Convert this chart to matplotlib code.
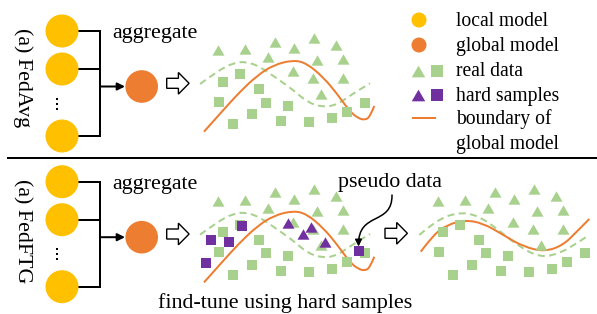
import numpy as np
import matplotlib
matplotlib.use("Agg")
import matplotlib.pyplot as plt
from matplotlib.patches import Circle, Polygon, FancyArrowPatch, PathPatch
from matplotlib.path import Path

YELLOW = "#FFC000"
ORANGE = "#ED7D31"
GREEN = "#A9D18E"
PURPLE = "#7030A0"

# ---------------- content (pixel coordinates on a 597x314 canvas, y down) -------------
panel_labels = ["(a) FedAvg", "(a) FedFTG"]
legend_labels = ["local model", "global model", "real data", "hard samples",
                 "boundary of", "global model"]
aggregate_label = "aggregate"
pseudo_label = "pseudo data"
finetune_label = "find-tune using hard samples"

# local models (top panel), global model
local_y = [31, 69, 136]
local_x = 62
dots_y = [98.5, 103.5, 108.5]
global_xy = (141.7, 86.5)

# real data (top panel)
tri_x = [218.3, 245, 275, 294.3, 314.3, 336, 268.3, 316.7, 343.3, 293.3, 313.3, 343.3, 320.7]
tri_y = [50, 49.3, 41.7, 48.3, 38.3, 45, 57.3, 60, 59.3, 71, 78.3, 78.3, 94.3]
sq_x = [222.7, 240, 259, 219, 266, 287.7, 252, 232.7, 280.7, 309, 331.7, 346.7, 365]
sq_y = [81.7, 74, 89, 101.7, 102.7, 105.7, 114, 124, 120.7, 121.7, 118.3, 111.7, 102.7]

# global boundary (top panel)
bnd_x = [204, 223.3, 240, 256.7, 273.3, 293.3, 306.7, 323.3, 336.7, 350, 358.3, 365, 370, 374.3]
bnd_y = [131.7, 110, 91.7, 76, 65, 60, 63.3, 77.3, 93.3, 111.7, 118.3, 120, 116.7, 106]
# true boundary (dashed)
true_x = [200, 216.7, 233.3, 246.7, 260, 276.7, 293.3, 306.7, 321.7, 336.7, 353.3, 370]
true_y = [84, 71.7, 62.7, 61.7, 66.7, 78.3, 90, 101.7, 107.3, 105, 93.3, 83.3]

# hard samples (bottom panel)
hard_tri_x = [287.7, 303.3, 311, 325]
hard_tri_y = [223.3, 234.3, 226.7, 242.3]
hard_sq_x = [242.3, 211, 229, 205.7, 359.3]
hard_sq_y = [225.7, 240, 241.7, 262.7, 251]

# fine-tuned panel curves
ft_bnd_x = [420.7, 433.3, 446.7, 465, 483.3, 503.3, 523.3, 545, 563.3, 576.7, 589.3]
ft_bnd_y = [251.7, 235, 225, 220, 223.3, 235, 246.7, 251.7, 245, 231.7, 219]
ft_true_x = [419.3, 436.7, 458.3, 476.7, 496.7, 516.7, 540, 560, 576.7, 589.3]
ft_true_y = [235, 220, 212.3, 215, 228.3, 245, 257.7, 253.3, 243.3, 235]

DY = 150.7   # vertical offset of the lower panel
DX = 220     # horizontal offset of the fine-tuned copy

# ---------------- drawing -------------
plt.rcParams['font.family'] = ['Liberation Serif', 'DejaVu Serif']
fig = plt.figure(figsize=(5.97, 3.14), dpi=100)
ax = fig.add_axes([0, 0, 1, 1])
ax.set_xlim(0, 597)
ax.set_ylim(314, 0)
ax.axis('off')

PX = 0.72  # points per pixel
FS_MAIN = 22 * PX
FS_LEG = 19.7 * PX
LW = 2 * PX
TRI = [(-1, -0.866), (1, -0.866), (0, 0.866), (-1, -0.866)]  # equilateral triangle


def smooth(xs, ys):
    pts = np.column_stack([xs, ys]).astype(float)
    verts = [pts[0]]
    codes = [Path.MOVETO]
    n = len(pts)
    for i in range(1, n - 1):
        end = pts[i + 1] if i == n - 2 else (pts[i] + pts[i + 1]) / 2
        verts += [pts[i], end]
        codes += [Path.CURVE3, Path.CURVE3]
    return Path(verts, codes)


def hollow_arrow(x0, yc):
    shaft_len, head_len, sh, hh = 11.7, 10.7, 5.0, 10.8
    pts = [(x0, yc - sh), (x0 + shaft_len, yc - sh), (x0 + shaft_len, yc - hh),
           (x0 + shaft_len + head_len, yc), (x0 + shaft_len, yc + hh),
           (x0 + shaft_len, yc + sh), (x0, yc + sh)]
    ax.add_patch(Polygon(pts, closed=True, facecolor='white', edgecolor='black',
                         lw=1.0, zorder=4))


def curve(xs, ys, dx=0.0, dy=0.0, dashed=False, color=ORANGE):
    p = smooth(np.array(xs) + dx, np.array(ys) + dy)
    ls = (0, (3.5, 2.2)) if dashed else '-'
    ax.add_patch(PathPatch(p, facecolor='none', edgecolor=color, lw=LW,
                           linestyle=ls, zorder=2, capstyle='butt'))


def markers(xs, ys, marker, color, size_px, dx=0.0, dy=0.0, z=3):
    ax.scatter(np.array(xs) + dx, np.array(ys) + dy, marker=marker,
               s=(size_px * PX) ** 2, color=color, linewidths=0, zorder=z)


for k, dy in enumerate([0.0, DY]):
    # panel label
    ax.text(22.5, 78 + dy + (2 if k else 0), panel_labels[k], rotation=-90,
            ha='center', va='center', fontsize=FS_MAIN)
    # local models
    for y in local_y:
        ax.add_patch(Circle((local_x, y + dy), 16.5, color=YELLOW, lw=0, zorder=3))
        ax.plot([local_x + 10, 100], [y + dy, y + dy], color='black', lw=LW,
                zorder=2, solid_capstyle='butt')
    ax.plot([100, 100], [local_y[0] + dy - 1, local_y[-1] + dy + 1], color='black',
            lw=LW, zorder=2, solid_capstyle='butt')
    ax.scatter([57] * 3, np.array(dots_y) + dy, s=(2.6 * PX) ** 2, color='black',
               marker='s', linewidths=0, zorder=3)
    # aggregate arrow and global model
    ax.annotate("", xy=(125, global_xy[1] + dy), xytext=(100, global_xy[1] + dy),
                arrowprops=dict(arrowstyle='-|>', color='black', lw=LW,
                                mutation_scale=11, shrinkA=0, shrinkB=0))
    ax.add_patch(Circle((global_xy[0], global_xy[1] + dy), 16.3, color=ORANGE,
                        lw=0, zorder=3))
    ax.text(112, 38.3 + dy, aggregate_label, ha='left', va='baseline',
            fontsize=FS_MAIN)
    hollow_arrow(166.7, 83.3 + dy)
    # data and boundaries
    curve(true_x, true_y, dy=dy, dashed=True, color=GREEN)
    curve(bnd_x, bnd_y, dy=dy)
    markers(tri_x, tri_y, TRI, GREEN, 12, dy=dy)
    markers(sq_x, sq_y, 's', GREEN, 10.5, dy=dy)

# hard samples
markers(hard_tri_x, hard_tri_y, TRI, PURPLE, 12, z=4)
markers(hard_sq_x, hard_sq_y, 's', PURPLE, 10.5, z=4)

# pseudo data annotation
ax.text(338, 186.7, pseudo_label, ha='left', va='baseline', fontsize=FS_MAIN)
arrow_path = Path([(392, 195), (392.5, 226), (358, 211), (358.6, 246.5)],
                  [Path.MOVETO, Path.CURVE4, Path.CURVE4, Path.CURVE4])
ax.add_patch(FancyArrowPatch(path=arrow_path, arrowstyle='-|>', color='black',
                             lw=1.1, mutation_scale=10, zorder=5))

# fine-tuned copy
hollow_arrow(385, 233.3)
curve(ft_true_x, ft_true_y, dashed=True, color=GREEN)
curve(ft_bnd_x, ft_bnd_y)
markers(tri_x, tri_y, TRI, GREEN, 12, dx=DX, dy=DY)
markers(sq_x, sq_y, 's', GREEN, 10.5, dx=DX, dy=DY)

ax.text(158.3, 308.3, finetune_label, ha='left', va='baseline', fontsize=FS_MAIN)

# separator
ax.plot([7, 597], [158, 158], color='black', lw=2 * PX, solid_capstyle='butt')

# legend
leg_base = [26, 50.7, 76, 100.7, 124, 149]
for lab, yb in zip(legend_labels, leg_base):
    ax.text(456, yb, lab, ha='left', va='baseline', fontsize=FS_LEG)
ax.add_patch(Circle((419, 20), 7.5, color=YELLOW, lw=0))
ax.add_patch(Circle((419, 45), 7.5, color=ORANGE, lw=0))
markers([418.3], [71], TRI, GREEN, 13.5)
markers([436.7], [71], 's', GREEN, 12)
markers([418.3], [95], TRI, PURPLE, 13.5)
markers([436.7], [95], 's', PURPLE, 12)
ax.plot([411.7, 435.7], [118.3, 118.3], color=ORANGE, lw=LW, solid_capstyle='butt')

fig.savefig("out.png", dpi=100)
